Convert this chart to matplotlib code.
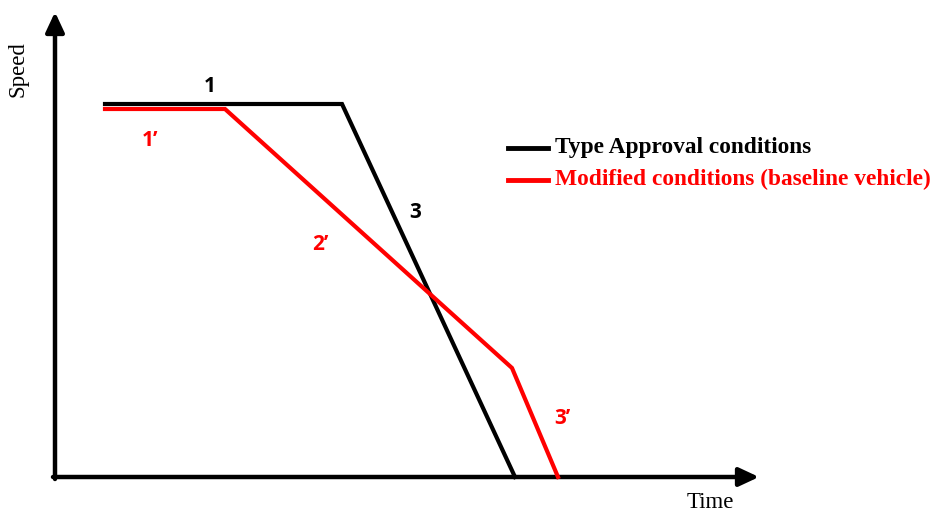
import matplotlib
matplotlib.use("Agg")
import matplotlib.pyplot as plt

# Data (arbitrary units: time, speed)
ta_time = [50, 287, 460]
ta_speed = [373, 373, 0]
mod_time = [50, 170, 457, 503]
mod_speed = [368, 368, 109, 0]

seg_labels = ["1", "3", "1’", "2’", "3’"]
seg_x = [155, 360, 95, 265, 507]
seg_y = [390, 264, 337, 232, 59]
seg_colors = ["black", "black", "red", "red", "red"]

legend_labels = ["Type Approval conditions", "Modified conditions (baseline vehicle)"]
legend_colors = ["black", "red"]
legend_y = [329, 297]

fig = plt.figure(figsize=(9.39, 5.13), dpi=100)
ax = fig.add_axes([0, 0, 1, 1])
ax.set_xlim(-55, 884)
ax.set_ylim(-36, 477)
ax.axis("off")

arrow_style = "-|>,head_length=0.6,head_width=0.28"
ax.annotate("", xy=(0, 465), xytext=(0, -2),
            arrowprops=dict(arrowstyle=arrow_style, lw=3.2, color="black",
                            shrinkA=0, shrinkB=0, mutation_scale=20))
ax.annotate("", xy=(704, 0), xytext=(-2, 0),
            arrowprops=dict(arrowstyle=arrow_style, lw=3.2, color="black",
                            shrinkA=0, shrinkB=0, mutation_scale=20))

ax.plot(ta_time, ta_speed, color="black", lw=3, solid_joinstyle="miter", zorder=3)
ax.plot(mod_time, mod_speed, color="red", lw=3, solid_joinstyle="miter", zorder=3)

for s, x, y, c in zip(seg_labels, seg_x, seg_y, seg_colors):
    ax.text(x, y, s, color=c, fontsize=15, fontweight="bold",
            family=["Open Sans", "DejaVu Sans"], ha="center", va="center")

for lab, c, y in zip(legend_labels, legend_colors, legend_y):
    ax.plot([453, 493], [y, y], color=c, lw=3.5)
    ax.text(500, y + 1, lab, color=c, fontsize=16.8, fontweight="bold",
            family="Liberation Serif", ha="left", va="center")

ax.text(-37, 408, "Speed", rotation=90, fontsize=16.5, family="Liberation Serif",
        ha="center", va="center")
ax.text(655, -26, "Time", fontsize=16.5, family="Liberation Serif",
        ha="center", va="center")

fig.savefig("out.png", dpi=100)
